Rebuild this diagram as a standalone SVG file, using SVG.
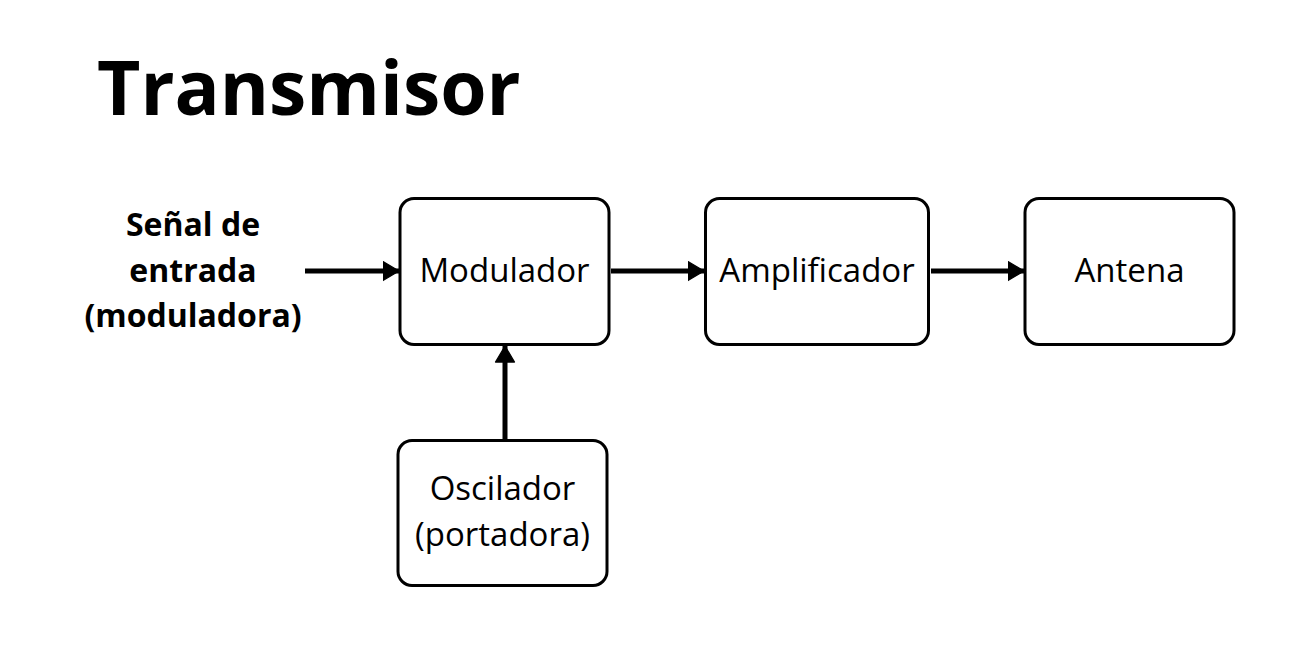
<svg xmlns="http://www.w3.org/2000/svg" width="1307" height="653" viewBox="0 0 1307 653">
<style>
.box{fill:#fff;stroke:#000;stroke-width:3}
.lbl{font-family:"Open Sans",sans-serif;font-size:33px;fill:#000;text-anchor:middle}
.bold{font-family:"Open Sans",sans-serif;font-weight:bold;font-size:32px;fill:#000;text-anchor:middle}
.conn{stroke:#000;stroke-width:5;fill:none;marker-end:url(#ah)}
</style>
<defs>
<marker id="ah" markerWidth="5" markerHeight="5" refX="3.3" refY="2.5" orient="auto" markerUnits="strokeWidth">
<path d="M0.1,0.6 L3.3,2.5 L0.1,4.4 Z" fill="#000" stroke="#000" stroke-width="0.25" stroke-linejoin="round"/>
</marker>
</defs>
<rect width="1307" height="653" fill="#fff"/>
<text id="title" x="97" y="115" font-family="'Open Sans',sans-serif" font-weight="bold" font-size="75" fill="#000">Transmisor</text>
<g id="input">
<text class="bold" x="193" y="236">Señal de</text>
<text class="bold" x="193" y="282">entrada</text>
<text class="bold" x="193" y="327">(moduladora)</text>
</g>
<g id="modulador">
<rect class="box" x="400" y="198.5" width="209" height="146" rx="14"/>
<text class="lbl" x="504.5" y="282">Modulador</text>
</g>
<g id="amplificador">
<rect class="box" x="705.5" y="198.5" width="223" height="146" rx="14"/>
<text class="lbl" x="817" y="282">Amplificador</text>
</g>
<g id="antena">
<rect class="box" x="1025" y="198.5" width="209" height="146" rx="14"/>
<text class="lbl" x="1129.5" y="282">Antena</text>
</g>
<g id="oscilador">
<rect class="box" x="398" y="440.5" width="209" height="145" rx="14"/>
<text class="lbl" x="502.5" y="500">Oscilador</text>
<text class="lbl" x="502.5" y="546">(portadora)</text>
</g>
<g id="connectors">
<line class="conn" x1="305" y1="271" x2="399" y2="271"/>
<line class="conn" x1="611" y1="271" x2="704" y2="271"/>
<line class="conn" x1="931" y1="271" x2="1024" y2="271"/>
<line class="conn" x1="505" y1="439" x2="505" y2="346"/>
</g>
</svg>
